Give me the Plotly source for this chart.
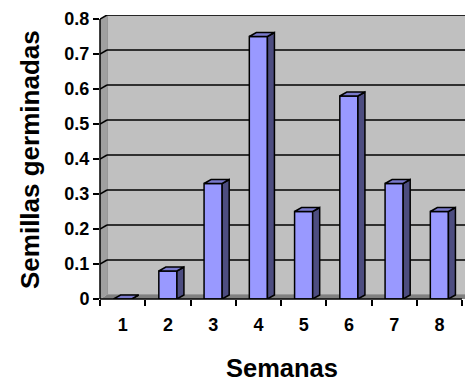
import plotly.graph_objects as go

# Germinated seeds per week
semanas = [1, 2, 3, 4, 5, 6, 7, 8]
germinadas = [0.0, 0.08, 0.33, 0.75, 0.25, 0.58, 0.33, 0.25]
y_ticks = [0, 0.1, 0.2, 0.3, 0.4, 0.5, 0.6, 0.7, 0.8]
y_ticktext = ["0", "0.1", "0.2", "0.3", "0.4", "0.5", "0.6", "0.7", "0.8"]

FONT = "Liberation Sans"
W, H = 465, 381
L, R, T, B = 100, 0, 15, 82

# pseudo-3D depth offsets in data units
DX = 0.155
DY = 0.0114
BAR_W = 0.4
YMAX = 0.8
XMIN, XMAX = 0.5, 8.5

FACE = "#9999FF"
TOP = "#7A7ACC"
SIDE = "#4D4D80"
WALL = "#C0C0C0"
WALL_DARK = "#808080"

fig = go.Figure()

# front faces of the columns
fig.add_trace(go.Bar(
    x=semanas, y=germinadas, width=BAR_W,
    marker=dict(color=FACE, line=dict(color="black", width=1.5)),
    hoverinfo="skip",
))

# right side faces and top faces built from the values
side_x, side_y, top_x, top_y = [], [], [], []
for xv, v in zip(semanas, germinadas):
    x0, x1 = xv - BAR_W / 2, xv + BAR_W / 2
    side_x += [x1, x1 + DX, x1 + DX, x1, x1, None]
    side_y += [0, DY, v + DY, v, 0, None]
    top_x += [x0, x1, x1 + DX, x0 + DX, x0, None]
    top_y += [v, v, v + DY, v + DY, v, None]

fig.add_trace(go.Scatter(
    x=side_x, y=side_y, mode="lines", fill="toself", fillcolor=SIDE,
    line=dict(color="black", width=1.5), hoverinfo="skip", showlegend=False,
))
fig.add_trace(go.Scatter(
    x=top_x, y=top_y, mode="lines", fill="toself", fillcolor=TOP,
    line=dict(color="black", width=1.5), hoverinfo="skip", showlegend=False,
))

shapes = []
# back wall
shapes.append(dict(type="rect", xref="x", yref="y", layer="below",
                   x0=XMIN + DX, x1=XMAX + DX, y0=DY, y1=YMAX + DY,
                   fillcolor=WALL, line=dict(color="#999999", width=2)))
# left side wall
shapes.append(dict(type="path", xref="x", yref="y", layer="below",
                   path=f"M {XMIN},0 L {XMIN + DX},{DY} L {XMIN + DX},{YMAX + DY} L {XMIN},{YMAX} Z",
                   fillcolor="#A0A0A0", line=dict(width=0)))
# floor
shapes.append(dict(type="path", xref="x", yref="y", layer="below",
                   path=f"M {XMIN},0 L {XMAX + DX},0 L {XMAX + DX + DX},{DY} L {XMIN + DX},{DY} Z",
                   fillcolor=WALL_DARK, line=dict(width=0)))
# gridlines on wall and side wall
for v in y_ticks[1:]:
    shapes.append(dict(type="line", xref="x", yref="y", layer="below",
                       x0=XMIN + DX, x1=XMAX + 2 * DX, y0=v + DY, y1=v + DY,
                       line=dict(color="black", width=1.5)))
    shapes.append(dict(type="line", xref="x", yref="y", layer="below",
                       x0=XMIN, x1=XMIN + DX, y0=v, y1=v + DY,
                       line=dict(color="black", width=1.5)))
# axis lines
shapes.append(dict(type="line", xref="paper", yref="y", x0=0, x1=0, y0=0, y1=YMAX,
                   line=dict(color="black", width=1.5)))
shapes.append(dict(type="line", xref="x", yref="paper", x0=XMIN, x1=XMAX, y0=0, y1=0,
                   line=dict(color="black", width=1.5)))

tick_font = dict(family=FONT, size=18, color="black", weight="bold")

fig.update_layout(
    width=W, height=H,
    margin=dict(l=L, r=R, t=T, b=B),
    paper_bgcolor="white", plot_bgcolor="white",
    showlegend=False,
    shapes=shapes,
    xaxis=dict(
        range=[XMIN, XMAX + 3 / 45.25],
        tickvals=semanas, ticktext=[str(s) for s in semanas],
        ticks="", showgrid=False, zeroline=False, showline=False,
        tickfont=tick_font,
        ticklabelstandoff=13,
        minor=dict(tickvals=[i + 0.5 for i in range(0, 9)], ticks="outside",
                   ticklen=6, tickwidth=1.5, tickcolor="black", showgrid=False),
        fixedrange=True,
    ),
    yaxis=dict(
        range=[0, YMAX + DY],
        tickvals=y_ticks, ticktext=y_ticktext,
        ticks="outside", ticklen=6, tickwidth=1.5, tickcolor="black",
        showgrid=False, zeroline=False, showline=False,
        tickfont=tick_font,
        fixedrange=True,
    ),
    annotations=[
        dict(text="Semanas", xref="paper", yref="paper",
             x=(282 - L) / (W - L - R), y=-(368 - (H - B)) / (H - T - B),
             xanchor="center", yanchor="middle", showarrow=False,
             font=dict(family=FONT, size=25.5, color="black", weight="bold")),
        dict(text="Semillas germinadas", xref="paper", yref="paper",
             x=(30 - L) / (W - L - R), y=((H - B) - 160) / (H - T - B),
             xanchor="center", yanchor="middle", showarrow=False, textangle=-90,
             font=dict(family=FONT, size=26, color="black", weight="bold")),
    ],
)

fig.write_html("out.html")
